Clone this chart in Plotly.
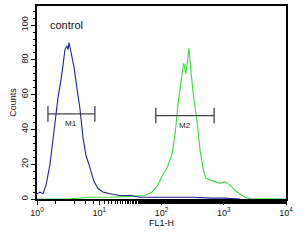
import math
import plotly.graph_objects as go

# Control histogram (blue), log10 of FL1-H vs counts
ctrl_log = [0.0, 0.048, 0.096, 0.145, 0.209, 0.273, 0.337, 0.40, 0.45, 0.48, 0.50, 0.514, 0.53, 0.546,
            0.594, 0.64, 0.69, 0.74, 0.787, 0.85, 0.916, 0.98, 1.06, 1.17, 1.33, 1.5, 1.65, 1.9, 2.2, 2.5, 2.8, 3.0, 3.26]
ctrl_cnt = [3, 4, 3, 8, 20, 38, 58, 72, 86, 88, 86, 90, 87, 86,
            76, 64, 52, 35, 25, 18, 10, 6, 4, 3, 2, 2, 1, 1, 1, 1, 0.5, 0.5, 0]

# Sample histogram (green)
samp_log = [0.0, 0.5, 0.85, 1.17, 1.49, 1.73, 1.85, 1.94, 2.02, 2.09, 2.17, 2.22, 2.27, 2.31, 2.35, 2.36,
            2.39, 2.42, 2.44, 2.47, 2.51, 2.57, 2.62, 2.67, 2.71, 2.78, 2.86, 2.94, 3.02, 3.10, 3.18, 3.26, 3.34, 3.42, 4.0]
samp_cnt = [0, 0, 1, 1, 1.5, 2, 4, 8, 14, 18, 26, 38, 56, 68, 77, 78,
            72, 80, 87, 75, 60, 45, 28, 17, 12, 11, 10, 9, 10, 8, 5, 3, 1, 0.3, 0]

# Markers: name, left, right, level
markers = [("M1", 1.5, 8.5, 49), ("M2", 81, 700, 48)]

xtick_vals = [1, 10, 100, 1000, 10000]
xtick_text = ["10<sup>0</sup>", "10<sup>1</sup>", "10<sup>2</sup>", "10<sup>3</sup>", "10<sup>4</sup>"]
ytick_vals = [0, 20, 40, 60, 80, 100]

fig = go.Figure()
fig.add_trace(go.Scatter(x=[10 ** v for v in samp_log], y=samp_cnt, mode="lines",
                         line=dict(color="#3ddc3d", width=1.1), showlegend=False))
fig.add_trace(go.Scatter(x=[10 ** v for v in ctrl_log], y=ctrl_cnt, mode="lines",
                         line=dict(color="#22229a", width=1.1), showlegend=False))

for name, lo, hi, lvl in markers:
    fig.add_trace(go.Scatter(x=[lo, hi], y=[lvl, lvl], mode="lines",
                             line=dict(color="#444444", width=1.3), showlegend=False))
    for xe in (lo, hi):
        fig.add_trace(go.Scatter(x=[xe, xe], y=[lvl - 4.5, lvl + 4.5], mode="lines",
                                 line=dict(color="#444444", width=1.3), showlegend=False))
    # annotations on a log axis take log10 positions
    fig.add_annotation(x=(math.log10(lo) + math.log10(hi)) / 2, xref="x", y=lvl - 2, yref="y",
                       text=name, showarrow=False, yanchor="top",
                       font=dict(size=8, color="#222222"))

fig.add_annotation(x=math.log10(1.5), xref="x", y=100, yref="y", text="control", showarrow=False,
                   xanchor="left", yanchor="middle", font=dict(size=11, color="#111111"))

fig.update_layout(
    width=306, height=250,
    margin=dict(l=37, r=20, t=4, b=51),
    paper_bgcolor="white", plot_bgcolor="white",
    font=dict(family="Liberation Sans, Arial, sans-serif", size=9, color="#111111"),
)
fig.update_xaxes(type="log", range=[0, 4], tickvals=xtick_vals, ticktext=xtick_text,
                 showgrid=False, zeroline=False, showline=True, linecolor="black", linewidth=1.5,
                 mirror=True, ticks="outside", ticklen=4, tickcolor="black",
                 minor=dict(ticks="outside", ticklen=3, tickcolor="black", showgrid=False),
                 tickfont=dict(size=9), title=dict(text="FL1-H", font=dict(size=9), standoff=2))
fig.update_yaxes(range=[0, 111], tickvals=ytick_vals, tickangle=-90,
                 showgrid=False, zeroline=False, showline=True, linecolor="black", linewidth=1.5,
                 mirror=True, ticks="outside", ticklen=4, tickcolor="black",
                 minor=dict(dtick=4, ticks="outside", ticklen=2, tickcolor="black", showgrid=False),
                 tickfont=dict(size=9), title=dict(text="Counts", font=dict(size=9), standoff=2))

fig.write_html("out.html")
